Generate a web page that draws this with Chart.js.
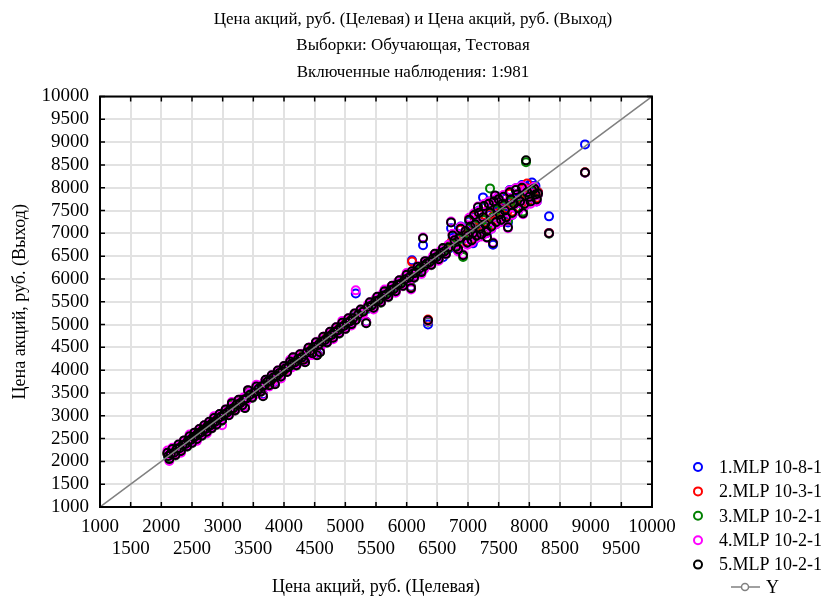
<!DOCTYPE html>
<html>
<head>
<meta charset="utf-8">
<script src="https://cdn.jsdelivr.net/npm/chart.js@4.4.0/dist/chart.umd.min.js"></script>
<style>
  body { margin: 0; background: #fff; }
  canvas { display: block; }
</style>
</head>
<body>
<canvas id="grafico" width="826" height="598"></canvas>
<script>
// Цена акций, руб. (Целевая) - общая для всех сетей
const targets = [
  2100, 2130, 2180, 2230, 2280, 2320, 2370, 2420, 2460, 2500, 2540, 2580, 2620, 2660, 2700, 2740, 2780, 2820, 2860, 2900, 2950, 2990,
  3050, 3100, 3150, 3200, 3260, 3320, 3364, 3413, 3480,
  3550, 3620, 3658, 3700, 3760, 3800, 3853, 3900, 3950, 4000,
  4050, 4100, 4147, 4200, 4260, 4320, 4343, 4400, 4460, 4520, 4538, 4587, 4640, 4700, 4750, 4800, 4850, 4900, 4950, 5000, 5050, 5100, 5150, 5170,
  5250, 5340, 5400, 5460, 5520, 5580, 5640, 5700, 5760, 5820, 5880, 5940, 6000, 6071, 6087, 6120, 6180, 6240, 6267, 6300, 6348, 6400, 6460, 6520, 6593, 6640,
  6724, 6780, 6805, 6860, 6920, 6960, 7000, 7040, 7080, 7120, 7163, 7200, 7245, 7280, 7310, 7359, 7408, 7441, 7480, 7520, 7560, 7600, 7652, 7700, 7750, 7800, 7850, 7897, 7946, 7962, 8000, 8044, 8100, 8142, 8321, 8908,
  6750, 6840, 6880, 6990, 7020, 7060, 7100, 7140, 7180, 7220, 7260, 7300, 7340, 7380, 7420, 7460, 7500, 7540, 7580, 7620, 7680, 7720, 7780, 7820, 7880, 7920, 8020, 8080, 8120,
  2115, 2155, 2205, 2255, 2300, 2345, 2395, 2440, 2480, 2520, 2560, 2600, 2640, 2680, 2720, 2760, 2800, 2840, 2880, 2925, 2970,
  3020, 3075, 3125, 3175, 3230, 3290, 3340, 3390, 3445, 3515,
  3585, 3640, 3680, 3730, 3780, 3825, 3875, 3925, 3975, 4025,
  4075, 4125, 4175, 4230, 4290, 4370, 4430, 4490, 4560, 4615, 4670, 4725, 4775, 4825, 4875, 4925, 4975, 5025, 5075, 5125,
  5210, 5290, 5370, 5430, 5490, 5550, 5610, 5670, 5730, 5790, 5850, 5910, 5970, 6040, 6105, 6150, 6210, 6285, 6325, 6375, 6430, 6490, 6555, 6615, 6680
];

// Цена акций, руб. (Выход) - каждая сеть
const mlp1 = [
  2160, 2073, 2250, 2160, 2340, 2250, 2430, 2350, 2520, 2430, 2600, 2510, 2690, 2590, 2760, 2670, 2840, 2750, 2920, 2830, 3010, 2930,
  3110, 3040, 3240, 3150, 3320, 3260, 3200, 3500, 3430,
  3610, 3560, 3470, 3760, 3700, 3860, 3730, 3960, 3890, 4060,
  3990, 4160, 4250, 4140, 4320, 4260, 4210, 4460, 4400, 4580, 4370, 4430, 4700, 4640, 4810, 4740, 4910, 4840, 5010, 4940, 5110, 5040, 5210, 5680,
  5300, 5060, 5460, 5400, 5580, 5520, 5700, 5640, 5820, 5760, 5940, 5880, 6060, 5830, 6409, 6060, 6240, 6180, 6737, 6360, 5000, 6340, 6520, 6460, 6474, 6580,
  7110, 6790, 6670, 6880, 6880, 6990, 7020, 7060, 6780, 7150, 7200, 7250, 7788, 7300, 7020, 7400, 6750, 7500, 7480, 7560, 7540, 7620, 7240, 7680, 7780, 7760, 7900, 7880, 7950, 8000, 8060, 8116, 8040, 7900, 7372, 8950,
  6900, 6620, 7150, 6760, 7260, 6830, 7350, 6900, 7500, 6950, 7560, 7000, 7700, 7100, 7660, 7200, 7800, 7260, 7760, 7300, 7950, 7400, 7990, 7500, 8060, 7600, 7740, 8040, 7700,
  2090, 2180, 2180, 2280, 2275, 2370, 2370, 2465, 2455, 2545, 2535, 2625, 2615, 2705, 2695, 2785, 2775, 2865, 2855, 2950, 2945,
  2995, 3100, 3100, 3200, 3205, 3315, 3315, 3415, 3420, 3540,
  3560, 3665, 3655, 3755, 3755, 3850, 3850, 3950, 3950, 4050,
  4050, 4150, 4150, 4255, 4265, 4395, 4405, 4515, 4535, 4640, 4645, 4750, 4750, 4850, 4850, 4950, 4950, 5050, 5050, 5150,
  5185, 5315, 5345, 5455, 5465, 5575, 5585, 5695, 5705, 5815, 5825, 5935, 5945, 6065, 6080, 6175, 6185, 6310, 6300, 6400, 6405, 6515, 6530, 6640, 6655
];
const mlp2 = [
  2170, 2070, 2250, 2150, 2350, 2240, 2440, 2340, 2530, 2420, 2610, 2500, 2690, 2580, 2770, 2660, 2850, 2740, 2930, 2820, 3020, 2910,
  3120, 3030, 3250, 3130, 3330, 3240, 3190, 3530, 3410,
  3620, 3540, 3450, 3770, 3680, 3870, 3710, 3970, 3870, 4070,
  3980, 4170, 4260, 4120, 4330, 4240, 4190, 4470, 4380, 4590, 4340, 4410, 4710, 4620, 4820, 4720, 4920, 4820, 5020, 4920, 5120, 5020, 5220, 5120,
  5310, 5050, 5470, 5380, 5590, 5500, 5710, 5620, 5830, 5740, 5950, 5860, 6070, 5810, 6380, 6040, 6250, 6160, 6300, 6370, 5110, 6320, 6530, 6440, 6660, 6560,
  6800, 6830, 6760, 6910, 6950, 7020, 6980, 7120, 7040, 7180, 7300, 7140, 7320, 7240, 7200, 7430, 7380, 7600, 7530, 7450, 7630, 7530, 7500, 7730, 7680, 7830, 7740, 7700, 7990, 8094, 7850, 7980, 7880, 7900, 7010, 8340,
  6980, 6680, 7080, 6830, 7330, 6880, 7380, 6980, 7420, 7020, 7630, 7080, 7620, 7180, 7730, 7280, 7720, 7340, 7830, 7380, 7870, 7480, 7980, 7580, 7970, 7690, 7730, 8010, 7780,
  2130, 2150, 2215, 2250, 2310, 2340, 2400, 2435, 2490, 2515, 2570, 2595, 2650, 2675, 2730, 2755, 2810, 2835, 2890, 2920, 2985,
  3035, 3065, 3140, 3165, 3245, 3280, 3355, 3380, 3460, 3505,
  3600, 3630, 3695, 3720, 3795, 3815, 3890, 3915, 3990, 4015,
  4090, 4115, 4190, 4220, 4305, 4360, 4445, 4480, 4575, 4605, 4685, 4715, 4790, 4815, 4890, 4915, 4990, 5015, 5090, 5115,
  5225, 5280, 5385, 5420, 5505, 5540, 5625, 5660, 5745, 5780, 5865, 5900, 5985, 6030, 6120, 6140, 6225, 6275, 6340, 6365, 6445, 6480, 6570, 6605, 6695
];
const mlp3 = [
  2175, 2080, 2255, 2130, 2355, 2220, 2445, 2320, 2535, 2400, 2615, 2480, 2695, 2560, 2775, 2640, 2855, 2720, 2935, 2800, 3025, 2890,
  3125, 3020, 3255, 3110, 3335, 3220, 3180, 3540, 3390,
  3625, 3520, 3440, 3775, 3660, 3875, 3700, 3975, 3850, 4075,
  3970, 4175, 4270, 4100, 4335, 4220, 4180, 4475, 4360, 4595, 4330, 4400, 4715, 4600, 4825, 4700, 4925, 4800, 5025, 4900, 5125, 5000, 5225, 5110,
  5315, 5040, 5475, 5360, 5595, 5480, 5715, 5600, 5835, 5720, 5955, 5840, 6075, 5800, 6100, 6020, 6255, 6140, 6280, 6375, 5060, 6300, 6535, 6420, 6665, 6540,
  6760, 6820, 6730, 6870, 6480, 7000, 6940, 7100, 6990, 7170, 7250, 7090, 7300, 7180, 7150, 7985, 7350, 7560, 7510, 7400, 7600, 7480, 7280, 7700, 7620, 7800, 7680, 7480, 8560, 7880, 7820, 7930, 7830, 7850, 6990, 8330,
  6960, 6640, 7120, 6790, 7280, 6840, 7410, 6930, 7460, 6960, 7590, 7030, 7660, 7140, 7710, 7240, 7760, 7290, 7810, 7340, 7910, 7440, 7960, 7540, 8010, 7640, 7710, 7990, 7740,
  2110, 2160, 2200, 2260, 2295, 2350, 2390, 2445, 2475, 2525, 2555, 2605, 2635, 2685, 2715, 2765, 2795, 2845, 2875, 2930, 2965,
  3015, 3080, 3120, 3180, 3225, 3295, 3335, 3395, 3440, 3520,
  3580, 3645, 3675, 3735, 3775, 3830, 3870, 3930, 3970, 4030,
  4070, 4130, 4170, 4235, 4285, 4375, 4425, 4495, 4555, 4620, 4665, 4730, 4770, 4830, 4870, 4930, 4970, 5030, 5070, 5130,
  5205, 5295, 5365, 5435, 5485, 5555, 5605, 5675, 5725, 5795, 5845, 5915, 5965, 6045, 6100, 6155, 6205, 6290, 6320, 6380, 6425, 6495, 6550, 6620, 6675
];
const mlp4 = [
  2240, 2010, 2300, 2140, 2370, 2190, 2460, 2330, 2590, 2410, 2630, 2450, 2710, 2570, 2790, 2610, 2870, 2730, 2990, 2810, 3040, 2795,
  3140, 3010, 3300, 3120, 3350, 3190, 3190, 3562, 3400,
  3680, 3530, 3452, 3790, 3640, 3890, 3700, 3990, 3820, 4090,
  3960, 4230, 4285, 4110, 4350, 4190, 4190, 4490, 4330, 4610, 4340, 4410, 4730, 4610, 4840, 4680, 4940, 4810, 5080, 4910, 5140, 4980, 5240, 5750,
  5330, 5050, 5490, 5330, 5610, 5490, 5770, 5610, 5850, 5700, 5970, 5850, 6130, 5770, 6170, 6030, 6270, 6110, 6910, 6390, 5080, 6310, 6550, 6400, 6680, 6550,
  7260, 6870, 6690, 6920, 6540, 7070, 6930, 7170, 6980, 7220, 7590, 7080, 7370, 7180, 6900, 7470, 6800, 7810, 7570, 7400, 7670, 7480, 7110, 7770, 7630, 7870, 7680, 7420, 7960, 7920, 7780, 7970, 7830, 7860, 7000, 8330,
  6990, 6600, 7140, 6750, 7340, 6800, 7440, 6900, 7490, 6930, 7640, 7000, 7690, 7100, 7740, 7200, 7790, 7250, 7840, 7300, 7940, 7400, 7990, 7500, 8040, 7600, 7650, 8020, 7700,
  2160, 2110, 2260, 2200, 2350, 2290, 2450, 2380, 2530, 2430, 2620, 2540, 2700, 2620, 2780, 2700, 2860, 2780, 2940, 2860, 3030,
  3080, 3020, 3190, 3110, 3290, 3230, 3400, 3330, 3510, 3450,
  3650, 3580, 3740, 3670, 3840, 3760, 3940, 3860, 4040, 3960,
  4140, 4060, 4240, 4160, 4360, 4300, 4500, 4420, 4630, 4550, 4740, 4660, 4840, 4760, 4940, 4860, 5040, 4960, 5140, 5060,
  5270, 5230, 5440, 5370, 5560, 5490, 5680, 5610, 5800, 5730, 5920, 5850, 6040, 5980, 6170, 6090, 6280, 6220, 6390, 6310, 6500, 6430, 6620, 6550, 6750
];
const mlp5 = [
  2190, 2050, 2270, 2140, 2370, 2230, 2460, 2330, 2550, 2410, 2630, 2490, 2710, 2570, 2790, 2650, 2870, 2730, 2950, 2810, 3040, 2900,
  3140, 3010, 3277, 3120, 3350, 3230, 3168, 3562, 3400,
  3640, 3530, 3430, 3790, 3670, 3890, 3693, 3990, 3860, 4090,
  3960, 4190, 4285, 4110, 4350, 4230, 4175, 4490, 4370, 4610, 4328, 4394, 4730, 4610, 4840, 4710, 4940, 4810, 5040, 4910, 5140, 5010, 5240, 5100,
  5330, 5030, 5490, 5370, 5610, 5490, 5730, 5610, 5850, 5730, 5970, 5850, 6090, 5795, 6170, 6030, 6270, 6150, 6890, 6390, 5095, 6310, 6550, 6430, 6680, 6550,
  7240, 6850, 6700, 6900, 6520, 7050, 6950, 7150, 7000, 7200, 7570, 7100, 7350, 7200, 6912, 7450, 6781, 7832, 7550, 7420, 7650, 7500, 7131, 7750, 7650, 7850, 7700, 7438, 8600, 7900, 7800, 7950, 7850, 7875, 7000, 8335,
  6950, 6650, 7100, 6800, 7300, 6850, 7400, 6950, 7450, 6980, 7600, 7050, 7650, 7150, 7700, 7250, 7750, 7300, 7800, 7350, 7900, 7450, 7950, 7550, 8000, 7650, 7700, 7980, 7750,
  2120, 2170, 2190, 2280, 2290, 2360, 2380, 2460, 2470, 2540, 2550, 2620, 2630, 2700, 2710, 2780, 2790, 2860, 2870, 2940, 2980,
  3030, 3070, 3140, 3170, 3250, 3280, 3350, 3380, 3460, 3510,
  3590, 3650, 3670, 3750, 3770, 3840, 3870, 3940, 3970, 4040,
  4070, 4140, 4170, 4250, 4280, 4390, 4420, 4510, 4550, 4630, 4660, 4740, 4770, 4840, 4870, 4940, 4970, 5040, 5070, 5140,
  5220, 5280, 5390, 5420, 5510, 5540, 5630, 5660, 5750, 5780, 5870, 5900, 5990, 6030, 6120, 6140, 6230, 6280, 6340, 6370, 6450, 6480, 6570, 6600, 6690
];

const seriesNames = ['1.MLP 10-8-1', '2.MLP 10-3-1', '3.MLP 10-2-1', '4.MLP 10-2-1', '5.MLP 10-2-1'];
const seriesColors = ['#0000ff', '#ff0000', '#008000', '#ff00ff', '#000000'];
const axisTicks = [1000, 1500, 2000, 2500, 3000, 3500, 4000, 4500, 5000, 5500, 6000, 6500, 7000, 7500, 8000, 8500, 9000, 9500, 10000];
const identityLine = [1000, 10000];

const FONT = 'Liberation Serif';
Chart.defaults.font.family = FONT;
Chart.defaults.font.size = 18;
Chart.defaults.color = '#000';

function puntos(salidas) {
    return targets.map((t, i) => ({ x: t, y: salidas[i] }));
}

const salidas = [mlp1, mlp2, mlp3, mlp4, mlp5];
const datasets = salidas.map((s, i) => ({
    label: seriesNames[i],
    data: puntos(s),
    borderColor: seriesColors[i],
    backgroundColor: 'rgba(0,0,0,0)',
    pointRadius: 4,
    pointBorderWidth: 2,
    pointHoverRadius: 4,
    order: 5 - i  // la ultima red queda encima
}));
datasets.push({
    type: 'line',
    label: 'Y',
    data: identityLine.map(v => ({ x: v, y: v })),
    borderColor: '#808080',
    borderWidth: 1.5,
    pointRadius: 0,
    order: 0
});

// marco negro y marcas hacia dentro en los cuatro lados
const marcoPlugin = {
    id: 'marco',
    afterDatasetsDraw(chart) {
        const { ctx, chartArea: a, scales: { x, y } } = chart;
        ctx.save();
        ctx.strokeStyle = '#000';
        ctx.lineWidth = 1.5;
        ctx.beginPath();
        x.ticks.forEach(t => {
            const px = x.getPixelForValue(t.value);
            ctx.moveTo(px, a.bottom); ctx.lineTo(px, a.bottom - 5);
            ctx.moveTo(px, a.top); ctx.lineTo(px, a.top + 5);
        });
        y.ticks.forEach(t => {
            const py = y.getPixelForValue(t.value);
            ctx.moveTo(a.left, py); ctx.lineTo(a.left + 5, py);
            ctx.moveTo(a.right, py); ctx.lineTo(a.right - 5, py);
        });
        ctx.stroke();
        ctx.lineWidth = 2;
        ctx.strokeRect(a.left, a.top, a.right - a.left, a.bottom - a.top);
        ctx.restore();
    }
};

// leyenda a la derecha, abajo
const leyendaPlugin = {
    id: 'leyenda',
    afterDraw(chart) {
        const ctx = chart.ctx;
        ctx.save();
        ctx.font = '18px "' + FONT + '"';
        ctx.textBaseline = 'middle';
        ctx.textAlign = 'left';
        chart.data.datasets.forEach((ds, i) => {
            if (ds.type === 'line') return;
            const cy = 467 + i * 24.4;
            ctx.strokeStyle = ds.borderColor;
            ctx.lineWidth = 2;
            ctx.beginPath();
            ctx.arc(698, cy, 4, 0, Math.PI * 2);
            ctx.stroke();
            ctx.fillStyle = '#000';
            ctx.fillText(ds.label, 719, cy + 1);
        });
        const ly = 587;
        ctx.strokeStyle = '#808080';
        ctx.lineWidth = 1.5;
        ctx.beginPath();
        ctx.moveTo(731, ly); ctx.lineTo(760, ly);
        ctx.stroke();
        ctx.beginPath();
        ctx.arc(745, ly, 3.5, 0, Math.PI * 2);
        ctx.fillStyle = '#fff';
        ctx.fill();
        ctx.stroke();
        ctx.fillStyle = '#000';
        ctx.fillText('Y', 766, ly + 1);
        ctx.restore();
    }
};

const ctx = document.getElementById('grafico').getContext('2d');
const grafico = new Chart(ctx, {
    type: 'scatter',
    data: { datasets: datasets },
    plugins: [marcoPlugin, leyendaPlugin],
    options: {
        responsive: false,
        devicePixelRatio: 1,
        animation: false,
        layout: {
            padding: { left: 0, right: 0, top: 0, bottom: 0 }
        },
        plugins: {
            legend: { display: false },
            tooltip: { enabled: false },
            title: {
                display: true,
                text: ['Цена акций, руб. (Целевая) и Цена акций, руб. (Выход)', 'Выборки: Обучающая, Тестовая', 'Включенные наблюдения: 1:981'],
                font: { family: FONT, size: 17, weight: 'normal', lineHeight: '26.5px' },
                color: '#000',
                padding: { top: 6, bottom: 11 }
            }
        },
        scales: {
            x: {
                type: 'linear',
                min: axisTicks[0],
                max: axisTicks[axisTicks.length - 1],
                afterBuildTicks: (scale) => { scale.ticks = axisTicks.map(v => ({ value: v })); },
                afterFit: (scale) => { scale.height = 91; },
                grid: { color: '#e2e2e2', lineWidth: 2, drawTicks: false },
                border: { display: false },
                ticks: {
                    autoSkip: false,
                    maxRotation: 0,
                    minRotation: 0,
                    padding: 9,
                    font: { size: 19, lineHeight: '22px' },
                    // etiquetas alternadas en dos filas
                    callback: (v) => (v % 1000 === 0 ? [String(v), ''] : ['', String(v)])
                },
                title: {
                    display: true,
                    text: 'Цена акций, руб. (Целевая)',
                    font: { size: 18 },
                    padding: { top: 0, bottom: 0 }
                }
            },
            y: {
                type: 'linear',
                min: axisTicks[0],
                max: axisTicks[axisTicks.length - 1],
                afterBuildTicks: (scale) => { scale.ticks = axisTicks.map(v => ({ value: v })); },
                afterFit: (scale) => { scale.width = 100; },
                grid: { color: '#e2e2e2', lineWidth: 2, drawTicks: false },
                border: { display: false },
                ticks: {
                    autoSkip: false,
                    padding: 11,
                    font: { size: 19 },
                    callback: (v) => String(v)
                },
                title: {
                    display: true,
                    text: 'Цена акций, руб. (Выход)',
                    font: { size: 18 },
                    padding: { top: 9, bottom: 0 }
                }
            },
            // eje vacio a la derecha: deja sitio para la leyenda
            margen: {
                type: 'linear',
                position: 'right',
                afterFit: (scale) => { scale.width = 174; },
                grid: { display: false },
                border: { display: false },
                ticks: { display: false }
            }
        }
    }
});
</script>
</body>
</html>
